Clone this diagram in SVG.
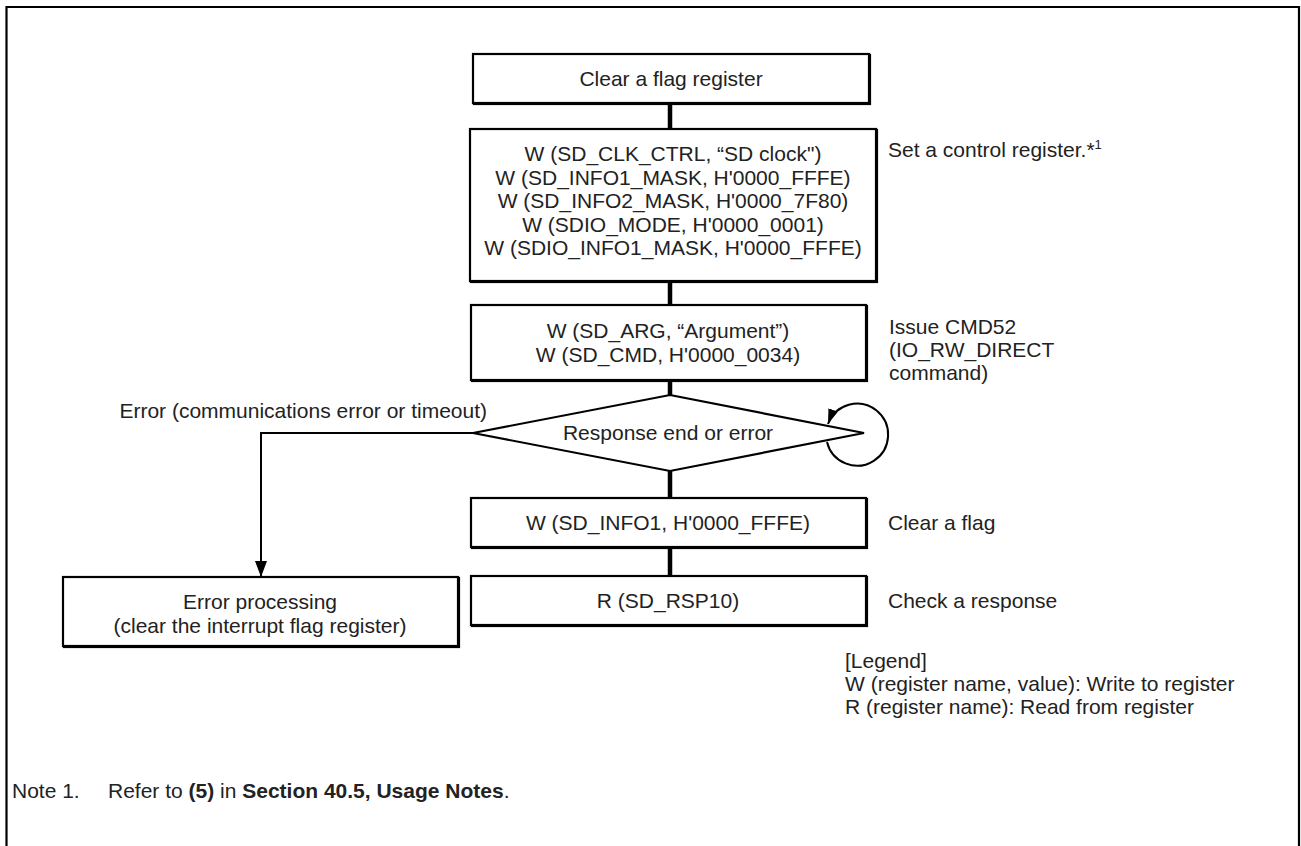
<svg xmlns="http://www.w3.org/2000/svg" width="1301" height="846" viewBox="0 0 1301 846">
<defs>
<style>
text{font-family:"Liberation Sans",Arial,sans-serif;font-size:21px;fill:#222}
.c{text-anchor:middle}
.box{fill:#fff;stroke:#000;stroke-width:2.2}
.sh{fill:none;stroke:#000;stroke-width:2.2}
.thick{stroke:#000;stroke-width:4.5;fill:none}
.thin{stroke:#000;stroke-width:2;fill:none}
.b{font-weight:bold}
</style>
<marker id="arr" viewBox="0 0 16 12" refX="16" refY="6" markerWidth="16" markerHeight="12" markerUnits="userSpaceOnUse" orient="auto">
<path d="M0,0 L16,6 L0,12 Z" fill="#000"/>
</marker>
<marker id="arr2" viewBox="0 0 15 10" refX="15" refY="5" markerWidth="15" markerHeight="10" markerUnits="userSpaceOnUse" orient="auto">
<path d="M0,0 L15,5 L0,10 Z" fill="#000"/>
</marker>
</defs>
<rect width="1301" height="846" fill="#fff"/>
<path d="M6.5 846 V7 H1299 V846" fill="none" stroke="#000" stroke-width="2.2"/>

<g id="connectors">
<line class="thick" x1="670" y1="103" x2="670" y2="129"/>
<line class="thick" x1="670" y1="281" x2="670" y2="305"/>
<line class="thick" x1="670" y1="380" x2="670" y2="395"/>
<line class="thick" x1="670" y1="471" x2="670" y2="498"/>
<line class="thick" x1="670" y1="547" x2="670" y2="576"/>
<path class="thin" d="M473 433 H261 V577" marker-end="url(#arr)"/>
<path class="thin" d="M827 442 A31 31 0 1 0 828 424" marker-end="url(#arr2)"/>
</g>

<g id="n1">
<rect class="sh" x="474" y="55" width="396" height="49"/>
<rect class="box" x="473" y="54" width="396" height="49"/>
<text class="c" x="671" y="86">Clear a flag register</text>
</g>

<g id="n2">
<rect class="sh" x="471" y="130" width="406" height="152"/>
<rect class="box" x="470" y="129" width="406" height="152"/>
<text class="c" x="673" y="161">W (SD_CLK_CTRL, “SD clock")</text>
<text class="c" x="673" y="184.5">W (SD_INFO1_MASK, H'0000_FFFE)</text>
<text class="c" x="673" y="208">W (SD_INFO2_MASK, H'0000_7F80)</text>
<text class="c" x="673" y="231.5">W (SDIO_MODE, H'0000_0001)</text>
<text class="c" x="673" y="255">W (SDIO_INFO1_MASK, H'0000_FFFE)</text>
</g>
<text id="l2" x="888" y="157">Set a control register.*<tspan font-size="13" dy="-8">1</tspan></text>

<g id="n3">
<rect class="sh" x="472" y="306" width="395" height="75"/>
<rect class="box" x="471" y="305" width="395" height="75"/>
<text class="c" x="668" y="338">W (SD_ARG, “Argument”)</text>
<text class="c" x="668" y="362">W (SD_CMD, H'0000_0034)</text>
</g>
<g id="l3">
<text x="889" y="334">Issue CMD52</text>
<text x="889" y="357">(IO_RW_DIRECT</text>
<text x="889" y="380">command)</text>
</g>

<g id="d1">
<polygon points="670,395 864,433 670,471 473,433" fill="#fff" stroke="#000" stroke-width="2.2"/>
<text class="c" x="668" y="440">Response end or error</text>
</g>
<text id="lerr" x="487" y="418" text-anchor="end">Error (communications error or timeout)</text>

<g id="n4">
<rect class="sh" x="472" y="499" width="395" height="49"/>
<rect class="box" x="471" y="498" width="395" height="49"/>
<text class="c" x="668" y="530">W (SD_INFO1, H'0000_FFFE)</text>
</g>
<text id="l4" x="888" y="530">Clear a flag</text>

<g id="n5">
<rect class="sh" x="472" y="577" width="395" height="49"/>
<rect class="box" x="471" y="576" width="395" height="49"/>
<text class="c" x="668" y="608">R (SD_RSP10)</text>
</g>
<text id="l5" x="888" y="608">Check a response</text>

<g id="n6">
<rect class="sh" x="64" y="578" width="395" height="69"/>
<rect class="box" x="63" y="577" width="395" height="69"/>
<text class="c" x="260" y="609">Error processing</text>
<text class="c" x="260" y="633">(clear the interrupt flag register)</text>
</g>

<g id="legend">
<text x="845" y="668">[Legend]</text>
<text x="845" y="691">W (register name, value): Write to register</text>
<text x="845" y="714">R (register name): Read from register</text>
</g>

<g id="note">
<text x="12" y="798">Note 1.</text>
<text x="108" y="798">Refer to <tspan class="b">(5)</tspan> in <tspan class="b">Section 40.5, Usage Notes</tspan>.</text>
</g>
</svg>
